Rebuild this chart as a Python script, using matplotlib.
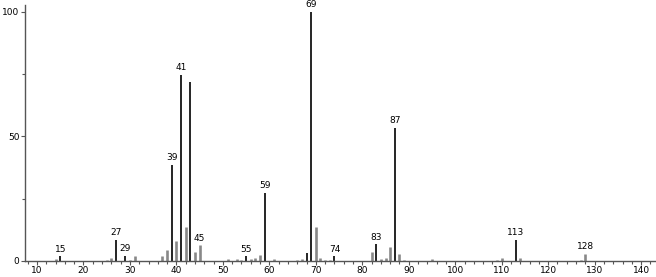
import numpy as np
import matplotlib
matplotlib.use("Agg")
import matplotlib.pyplot as plt
from matplotlib.ticker import MultipleLocator

# m/z and relative intensity
mz = [14, 15, 25, 26, 27, 29, 30, 31, 37, 38, 39, 40, 41, 42, 43, 44, 45,
      51, 53, 54, 55, 56, 57, 58, 59, 61, 66, 67, 68, 69, 70, 71, 72, 73, 74,
      82, 83, 84, 85, 86, 87, 88, 89, 95, 109, 110, 113, 114, 127, 128]
intensity = [0.8, 1.8, 0.5, 1.2, 8.6, 2.0, 0.5, 1.8, 1.8, 4.4, 38.6, 8.2, 74.7, 13.6, 72.0, 3.4, 6.2,
             0.6, 0.8, 0.5, 1.8, 0.6, 1.0, 2.4, 27.3, 0.6, 0.5, 0.8, 3.1, 100.0, 13.6, 1.0, 0.5, 0.5, 1.8,
             3.4, 6.8, 0.8, 1.0, 5.7, 53.4, 2.8, 0.5, 0.8, 0.5, 1.2, 8.6, 1.0, 0.5, 2.8]

labeled = [15, 27, 29, 39, 41, 45, 55, 59, 69, 74, 83, 87, 113, 128]
dark = [15, 27, 29, 39, 41, 43, 55, 59, 68, 69, 74, 83, 87, 113]

fig = plt.figure(figsize=(6.56, 2.77), dpi=100)
ax = fig.add_axes([0.038, 0.058, 0.962, 0.924])

for m, h in zip(mz, intensity):
    if m in dark:
        ax.vlines(m, 0, h, color="black", lw=1.2)
    else:
        ax.vlines(m, 0, h, color="#888888", lw=1.9)
    if m in labeled:
        ax.text(m, h + 1.0, str(m), ha="center", va="bottom", fontsize=6.5)

ax.set_xlim(7.4, 143.2)
ax.set_ylim(0, 102.8)
ax.xaxis.set_minor_locator(MultipleLocator(2))
ax.set_xticks(range(10, 141, 10))
ax.set_yticks([0, 50, 100])
ax.yaxis.set_minor_locator(MultipleLocator(25))
ax.tick_params(axis="both", which="major", labelsize=6.5, length=3, width=0.8,
               color="#555555", pad=1)
ax.tick_params(axis="both", which="minor", length=2, width=0.8, color="#555555")

for s in ["top", "right"]:
    ax.spines[s].set_visible(False)
for s in ["left", "bottom"]:
    ax.spines[s].set_color("#555555")
    ax.spines[s].set_linewidth(1.0)

fig.savefig("out.png", dpi=100)
